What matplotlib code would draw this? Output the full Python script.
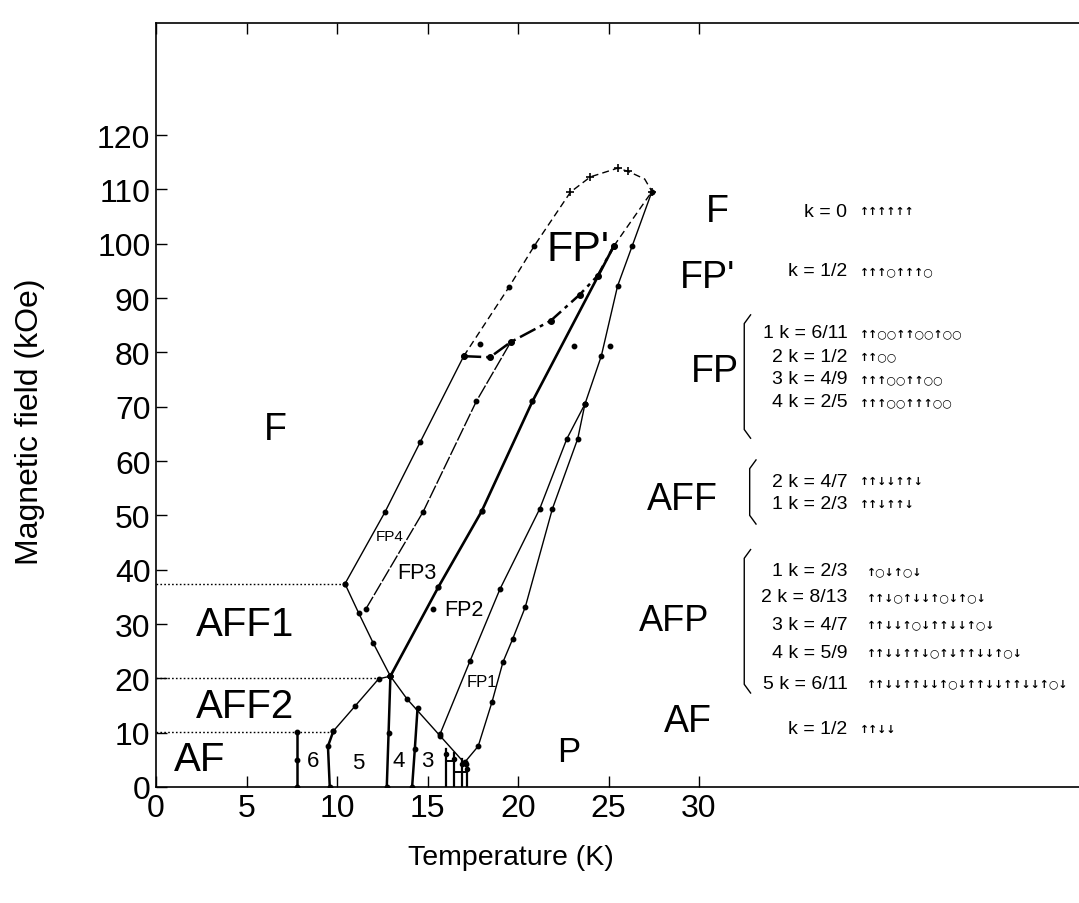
import matplotlib
matplotlib.use("Agg")
import matplotlib.pyplot as plt

plt.rcParams['font.family'] = ['Liberation Sans', 'DejaVu Sans']

# ---- phase boundaries, temperature (K) vs field (kOe) ----
# F / FP4 boundary (solid) and the dome closing the field-induced phases
f_fp4_T = [10.44, 12.65, 14.6, 17.0]
f_fp4_H = [37.4, 50.6, 63.5, 79.3]
dome_T = [17.0, 19.5, 20.9, 22.9, 24.0, 25.5, 26.1, 27.0, 27.4]
dome_H = [79.3, 92.0, 99.6, 109.5, 112.3, 113.9, 113.3, 111.9, 109.6]
dome_cross_T = [22.9, 24.0, 25.5, 26.1, 27.4]
dome_cross_H = [109.5, 112.3, 113.9, 113.3, 109.6]

# FP' lower boundary (dash-dot) and FP' right boundary (dashed)
fpp_low_T = [17.0, 18.45, 19.6, 21.8, 23.4, 24.4, 25.3]
fpp_low_H = [79.3, 79.1, 81.9, 85.8, 90.6, 94.1, 99.6]
fpp_right_T = [25.3, 27.4]
fpp_right_H = [99.6, 109.6]

# FP4 / FP3, FP3 / FP2 (thick), FP2 / FP1, FP1 / P
fp43_T = [11.6, 14.75, 17.7, 19.6]
fp43_H = [32.8, 50.6, 71.0, 81.9]
fp32_T = [12.95, 15.6, 18.0, 20.8, 25.3]
fp32_H = [20.4, 36.8, 50.8, 71.0, 99.6]
fp21_T = [15.7, 17.35, 19.0, 21.2, 22.7, 23.7]
fp21_H = [9.8, 23.2, 36.4, 51.2, 64.1, 70.5]
fp1p_T = [17.07, 17.8, 18.56, 19.17, 19.7, 20.4, 21.9, 23.3, 23.7]
fp1p_H = [4.6, 7.5, 15.6, 23.0, 27.2, 33.1, 51.2, 64.1, 70.5]
fp_top_T = [23.7, 24.6, 25.5, 26.3, 27.4]
fp_top_H = [70.5, 79.3, 92.2, 99.5, 109.6]

# low-field boundaries
aff1_T = [10.44, 11.2, 12.0, 12.95]
aff1_H = [37.4, 32.0, 26.5, 20.4]
aff_low_T = [12.95, 13.87, 15.7, 17.1]
aff_low_H = [20.4, 16.2, 9.4, 4.2]
aff2_T = [9.8, 11.0, 12.3, 12.95]
aff2_H = [10.3, 14.9, 19.9, 20.4]

# near-vertical AF / AFP boundaries
v_T = [[7.8, 7.8, 7.8], [9.6, 9.5, 9.8], [12.75, 12.85, 12.95], [14.15, 14.3, 14.45]]
v_H = [[0, 5.0, 10.1], [0, 7.5, 10.3], [0, 10.0, 20.4], [0, 7.0, 14.5]]
box_T = [16.0, 16.45, 16.9, 17.2]
box_H = [7.0, 6.2, 5.2, 4.4]

# dotted guides to the field axis
guide_H = [10.1, 20.1, 37.3]
guide_T = [9.8, 12.3, 10.44]

# isolated measured points
iso_T = [17.9, 23.1, 25.1, 15.3]
iso_H = [81.5, 81.2, 81.2, 32.8]

# ---- labels ----
big_labels = ["F", "AFF1", "AFF2", "AF", "P", "FP'",
              "F", "FP'", "FP", "AFF", "AFP", "AF"]
big_T = [6.6, 4.9, 4.9, 2.4, 22.8, 23.3, 31.0, 30.5, 30.9, 29.1, 28.6, 29.4]
big_H = [65.9, 30.0, 14.9, 5.2, 6.6, 99.0, 106.0, 93.9, 76.6, 53.0, 30.6, 12.1]
big_size = [27, 29, 29, 29, 25, 31, 27, 27, 27, 27, 26, 27]

small_labels = ["6", "5", "4", "3", "FP4", "FP3", "FP2", "FP1"]
small_T = [8.7, 11.2, 13.4, 15.0, 12.9, 14.4, 17.0, 18.0]
small_H = [4.8, 4.6, 4.8, 4.8, 46.2, 39.4, 32.6, 19.5]
small_size = [16, 16, 16, 16, 11, 15.5, 15.5, 12]

k_labels = ["k = 0", "k = 1/2",
            "1 k = 6/11", "2 k = 1/2", "3 k = 4/9", "4 k = 2/5",
            "2 k = 4/7", "1 k = 2/3",
            "1 k = 2/3", "2 k = 8/13", "3 k = 4/7", "4 k = 5/9", "5 k = 6/11",
            "k = 1/2"]
k_H = [106.0, 95.0, 83.6, 79.3, 75.1, 70.9, 56.3, 52.1,
       39.8, 35.0, 30.0, 24.8, 19.1, 10.7]
spins = ["↑↑↑↑↑↑", "↑↑↑○↑↑↑○",
         "↑↑○○↑↑○○↑○○", "↑↑○○", "↑↑↑○○↑↑○○", "↑↑↑○○↑↑↑○○",
         "↑↑↓↓↑↑↓", "↑↑↓↑↑↓",
         "↑○↓↑○↓", "↑↑↓○↑↓↓↑○↓↑○↓", "↑↑↓↓↑○↓↑↑↓↓↑○↓",
         "↑↑↓↓↑↑↓○↑↓↑↑↓↓↑○↓", "↑↑↓↓↑↑↓↓↑○↓↑↑↓↓↑↑↓↓↑○↓",
         "↑↑↓↓"]
brackets = [(32.5, 64.6, 86.5), (32.8, 48.8, 59.8), (32.5, 17.7, 43.3)]

fig = plt.figure(figsize=(10.79, 9.04), dpi=100)
ax = fig.add_axes([156 / 1079, 1 - 788 / 904, 923 / 1079, 764 / 904])

line = dict(color="black", lw=1.0, marker="o", ms=3.2)
ax.plot(f_fp4_T, f_fp4_H, **line)
ax.plot(dome_T, dome_H, color="black", lw=1.0, dashes=(5, 3))
ax.plot(dome_T[:3], dome_H[:3], "o", color="black", ms=3.2)
ax.plot(dome_cross_T, dome_cross_H, "+", color="black", ms=6, mew=1.2)
ax.plot(fpp_low_T, fpp_low_H, color="black", lw=1.8, dashes=(7, 2, 1.5, 2),
        marker="o", ms=4)
ax.plot(fpp_right_T, fpp_right_H, color="black", lw=1.0, dashes=(5, 3))
ax.plot(fp43_T, fp43_H, color="black", lw=1.0, dashes=(10, 1.5), marker="o", ms=3.2)
ax.plot(fp32_T, fp32_H, color="black", lw=1.9, marker="o", ms=3.5)
ax.plot(fp21_T, fp21_H, **line)
ax.plot(fp1p_T, fp1p_H, **line)
ax.plot(fp_top_T, fp_top_H, **line)
ax.plot(aff1_T, aff1_H, **line)
ax.plot(aff_low_T, aff_low_H, **line)
ax.plot(aff2_T, aff2_H, **line)
for t, h in zip(v_T, v_H):
    ax.plot(t, h, color="black", lw=1.8, marker="o", ms=3.2)
for t, h in zip(box_T, box_H):
    ax.plot([t, t], [0, h], color="black", lw=1.6)
ax.plot([box_T[0], box_T[1]], [4.8, 4.8], color="black", lw=1.4)
ax.plot([box_T[1], box_T[3]], [2.8, 2.8], color="black", lw=1.4)
ax.plot(box_T, [h - 1 for h in box_H], "o", color="black", ms=3)
for h, t in zip(guide_H, guide_T):
    ax.plot([0, t], [h, h], color="black", lw=1.0, ls=(0, (1.2, 1.6)))
ax.plot(iso_T, iso_H, "o", color="black", ms=3.2)

for s, t, h, fs in zip(big_labels, big_T, big_H, big_size):
    ax.text(t, h, s, fontsize=fs, ha="center", va="center")
for s, t, h, fs in zip(small_labels, small_T, small_H, small_size):
    ax.text(t, h, s, fontsize=fs, ha="center", va="center")
for i, (s, h, sp) in enumerate(zip(k_labels, k_H, spins)):
    ax.text(38.2, h, s, fontsize=14, ha="right", va="center")
    x0 = 39.3 if 8 <= i <= 12 else 38.9
    ax.text(x0, h, sp, fontsize=7.8, ha="left", va="center",
            family=['DejaVu Sans'], fontweight="bold")
for x, y0, y1 in brackets:
    ax.plot([x + 0.35, x, x, x + 0.35], [y1 + 0.4, y1 - 1.2, y0 + 1.2, y0 - 0.4],
            color="black", lw=1.0)

ax.set_xlim(0, 923 / 18.1)
ax.set_ylim(0, 764 / 5.433)
ax.set_xticks(range(0, 31, 5))
ax.set_yticks(range(0, 121, 10))
ax.tick_params(direction="in", length=8, width=1, top=True, labelsize=23)
ax.tick_params(axis="y", pad=4)
ax.tick_params(axis="x", pad=4)
ax.spines["right"].set_visible(False)
for sp in ["left", "top", "bottom"]:
    ax.spines[sp].set_linewidth(1.2)

fig.text(511 / 1079, 1 - 858 / 904, "Temperature (K)", fontsize=20.5,
         ha="center", va="center")
fig.text(30 / 1079, 1 - 422 / 904, "Magnetic field (kOe)", fontsize=23,
         ha="center", va="center", rotation=90)

fig.savefig("out.png", dpi=100)
